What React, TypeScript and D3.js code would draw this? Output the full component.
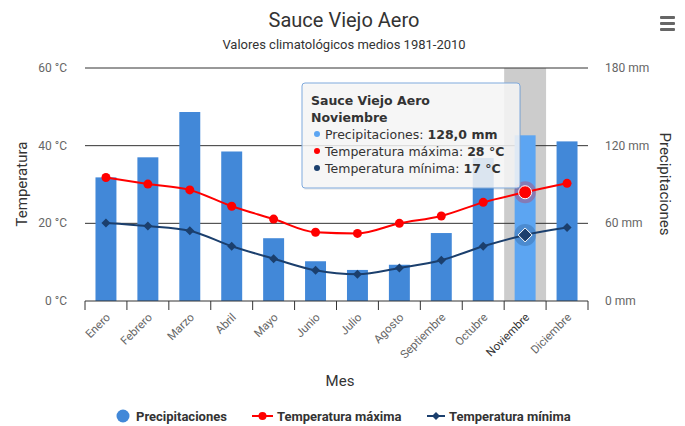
import React from "react";
import * as d3 from "d3";

const months = ["Enero","Febrero","Marzo","Abril","Mayo","Junio","Julio","Agosto","Septiembre","Octubre","Noviembre","Diciembre"];
const precip = [95.5, 111, 146, 115.5, 48.5, 30.7, 24, 28, 52.5, 110.5, 128.0, 123.3];
const tMax = [31.8, 30.1, 28.6, 24.4, 21.1, 17.7, 17.4, 20.0, 21.9, 25.4, 28, 30.3];
const tMin = [20.1, 19.3, 18.1, 14.1, 10.9, 7.9, 6.9, 8.5, 10.5, 14.1, 17, 18.9];
const tempTicks = [0, 20, 40, 60];
const precTicks = [0, 60, 120, 180];
const hoverIndex = 10;

const W = 685, H = 426;
const FONT = "Roboto, 'Noto Sans', sans-serif";
const BAR = "#4288d8";
const BAR_HOVER = "#5ca5f2";
const RED = "#ff0000";
const NAVY = "#1b3f6d";

export default function App() {
  const x = d3.scaleBand<string>().domain(months).range([85, 588]).padding(0);
  const yT = d3.scaleLinear().domain([0, 60]).range([301, 68]);
  const yP = d3.scaleLinear().domain([0, 180]).range([301, 68]);
  const bw = x.bandwidth();
  const cx = (m: string) => (x(m) as number) + bw / 2;

  const line = (vals: number[]) =>
    d3.line<number>().x((_, i) => cx(months[i])).y((v) => yT(v)).curve(d3.curveMonotoneX)(vals) || "";

  const diamond = (px: number, py: number, r: number) =>
    `M${px},${py - r}L${px + r},${py}L${px},${py + r}L${px - r},${py}Z`;

  const hm = months[hoverIndex];
  const tipX = 302, tipY = 83;

  return (
    <svg width={W} height={H} style={{ position: "absolute", left: 0, top: 0, background: "#fff" }} fontFamily={FONT}>
      <rect x={0} y={0} width={W} height={H} fill="#fff" />
      {/* title */}
      <text x={344} y={27} textAnchor="middle" fontSize={20} fill="#333">Sauce Viejo Aero</text>
      <text x={344} y={49} textAnchor="middle" fontSize={13} fill="#333">Valores climatológicos medios 1981-2010</text>
      {/* menu icon */}
      <g fill="#666">
        <rect x={660} y={16} width={15} height={3} rx={1} />
        <rect x={660} y={22} width={15} height={3} rx={1} />
        <rect x={660} y={28} width={15} height={3} rx={1} />
      </g>
      {/* hover band */}
      <rect x={x(hm)} y={68} width={bw} height={233} fill="#cccccc" />
      {/* gridlines */}
      {tempTicks.filter((t) => t > 0).map((t) => (
        <line key={t} x1={85} x2={588} y1={yT(t)} y2={yT(t)} stroke="#333" strokeWidth={1} />
      ))}
      {/* bars */}
      {precip.map((v, i) => (
        <rect key={i} x={cx(months[i]) - bw / 4} y={yP(v)} width={bw / 2} height={yP(0) - yP(v)}
          fill={i === hoverIndex ? BAR_HOVER : BAR} />
      ))}
      {/* x axis */}
      <line x1={85} x2={588} y1={301} y2={301} stroke="#333" strokeWidth={1} />
      {months.map((m, i) => (
        <line key={"t" + i} x1={x(m) as number} x2={x(m) as number} y1={301} y2={310} stroke="#333" />
      ))}
      <line x1={588} x2={588} y1={301} y2={310} stroke="#333" />
      {months.map((m, i) => (
        <text key={"l" + i} transform={`translate(${cx(m) + 5},${318}) rotate(-45)`} textAnchor="end"
          fontSize={11.5} fill={i === hoverIndex ? "#333" : "#666"}>{m}</text>
      ))}
      {/* y axes */}
      {tempTicks.map((t) => (
        <text key={"yt" + t} x={67} y={yT(t) + 4} textAnchor="end" fontSize={12} fill="#666">{`${t} °C`}</text>
      ))}
      {precTicks.map((t) => (
        <text key={"yp" + t} x={605} y={yP(t) + 4} textAnchor="start" fontSize={12} fill="#666">{`${t} mm`}</text>
      ))}
      <text transform="translate(27,184) rotate(-90)" textAnchor="middle" fontSize={15} fill="#333">Temperatura</text>
      <text transform="translate(660,184) rotate(90)" textAnchor="middle" fontSize={15} fill="#333">Precipitaciones</text>
      <text x={340} y={386} textAnchor="middle" fontSize={15} fill="#333">Mes</text>
      {/* lines */}
      <path d={line(tMax)} fill="none" stroke={RED} strokeWidth={2} />
      <path d={line(tMin)} fill="none" stroke={NAVY} strokeWidth={2} />
      {tMax.map((v, i) => i === hoverIndex ? null : (
        <circle key={"mx" + i} cx={cx(months[i])} cy={yT(v)} r={4.5} fill={RED} />
      ))}
      {tMin.map((v, i) => i === hoverIndex ? null : (
        <path key={"mn" + i} d={diamond(cx(months[i]), yT(v), 4.5)} fill={NAVY} />
      ))}
      {/* hover markers */}
      <circle cx={cx(hm)} cy={yT(tMax[hoverIndex])} r={11} fill={RED} fillOpacity={0.25} />
      <circle cx={cx(hm)} cy={yT(tMax[hoverIndex])} r={6.5} fill={RED} stroke="#fff" strokeWidth={1} />
      <circle cx={cx(hm)} cy={yT(tMin[hoverIndex])} r={11} fill={NAVY} fillOpacity={0.25} />
      <path d={diamond(cx(hm), yT(tMin[hoverIndex]), 7)} fill={NAVY} stroke="#fff" strokeWidth={1} />
      {/* tooltip */}
      <g>
        <rect x={tipX + 1} y={tipY + 2} width={218} height={105} rx={3} fill="#000" fillOpacity={0.06} />
        <rect x={tipX} y={tipY} width={218} height={105} rx={3} fill="#f7f7f7" fillOpacity={0.85} stroke="#7fa9dc" strokeWidth={1} />
        <g fontFamily="'DejaVu Sans', Verdana, sans-serif" fontSize={12.5} fill="#333">
          <text x={tipX + 9} y={tipY + 22} fontWeight="bold">Sauce Viejo Aero</text>
          <text x={tipX + 9} y={tipY + 39} fontWeight="bold">{hm}</text>
          <circle cx={tipX + 15} cy={tipY + 51} r={3} fill={BAR_HOVER} />
          <text x={tipX + 23} y={tipY + 55.5}>Precipitaciones: <tspan fontWeight="bold">{d3.format(".1f")(precip[hoverIndex]).replace(".", ",")} mm</tspan></text>
          <circle cx={tipX + 15} cy={tipY + 68} r={3} fill={RED} />
          <text x={tipX + 23} y={tipY + 72.5}>Temperatura máxima: <tspan fontWeight="bold">{tMax[hoverIndex]} °C</tspan></text>
          <circle cx={tipX + 15} cy={tipY + 85} r={3} fill={NAVY} />
          <text x={tipX + 23} y={tipY + 89.5}>Temperatura mínima: <tspan fontWeight="bold">{tMin[hoverIndex]} °C</tspan></text>
        </g>
      </g>
      {/* legend */}
      <g fontSize={13} fontWeight="bold" fill="#333">
        <circle cx={123} cy={416} r={6.5} fill={BAR} />
        <text x={136} y={421}>Precipitaciones</text>
        <line x1={252} x2={273} y1={416} y2={416} stroke={RED} strokeWidth={2} />
        <circle cx={262.5} cy={416} r={4} fill={RED} />
        <text x={277} y={421}>Temperatura máxima</text>
        <line x1={427} x2={445} y1={416} y2={416} stroke={NAVY} strokeWidth={2} />
        <path d={diamond(436, 416, 4)} fill={NAVY} />
        <text x={449} y={421}>Temperatura mínima</text>
      </g>
    </svg>
  );
}
